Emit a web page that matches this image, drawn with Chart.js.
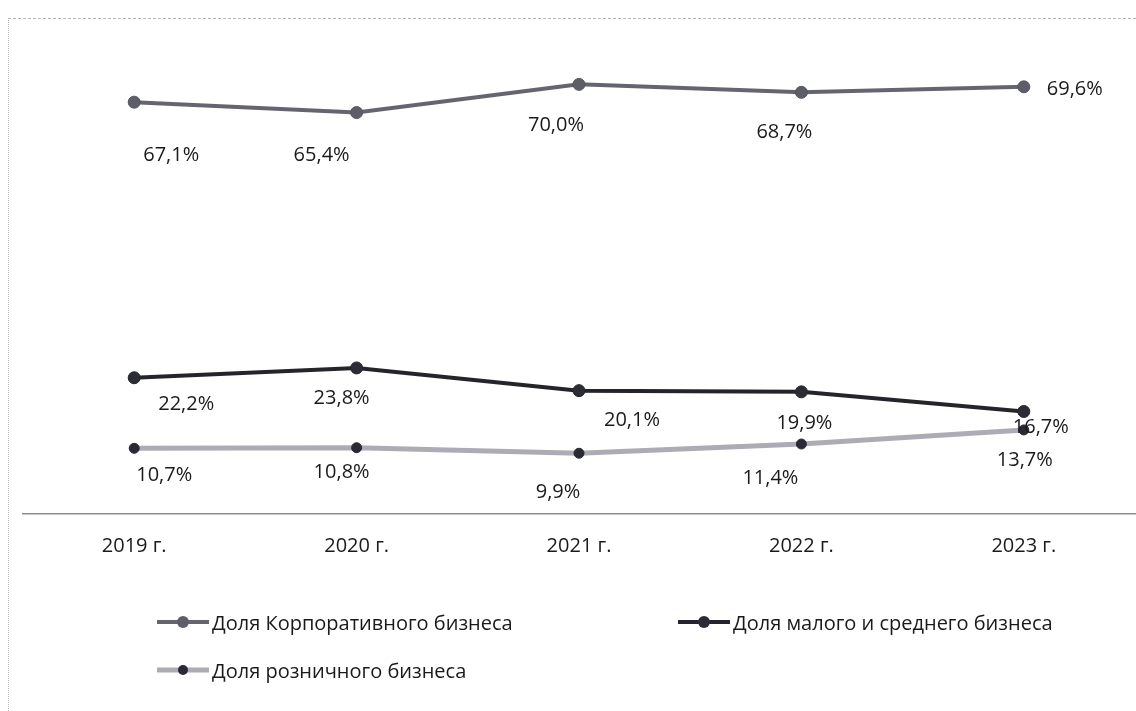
<!DOCTYPE html>
<html>
<head>
<meta charset="utf-8">
<script src="https://cdn.jsdelivr.net/npm/chart.js@4"></script>
<style>
  html, body { margin: 0; padding: 0; background: #fff; }
  #wrap { position: relative; width: 1136px; height: 711px; overflow: hidden; font-family: 'Open Sans', sans-serif; }
  #chart { position: absolute; left: 0; top: 0; }
  .frame-top { position: absolute; left: 8px; top: 18px; width: 1128px; border-top: 1px dashed #b4b4b4; }
  .frame-left { position: absolute; left: 8px; top: 18px; height: 693px; border-left: 1px dotted #b4b4b4; }
  .leg { position: absolute; display: flex; align-items: center; font-size: 20px; color: #1a1a1a; white-space: nowrap; }
  .sw { position: relative; width: 52px; height: 12px; margin-right: 3px; }
  .sw .ln { position: absolute; left: 0; right: 0; top: 50%; transform: translateY(-50%); }
  .sw .dot { position: absolute; left: 50%; top: 50%; transform: translate(-50%, -50%); border-radius: 50%; }
</style>
</head>
<body>
<div id="wrap">
  <div class="frame-top"></div>
  <div class="frame-left"></div>
  <canvas id="chart" width="1136" height="711"></canvas>
</div>
<script>
const years = ['2019 г.', '2020 г.', '2021 г.', '2022 г.', '2023 г.'];
const corporate = [67.1, 65.4, 70.0, 68.7, 69.6];
const smallMedium = [22.2, 23.8, 20.1, 19.9, 16.7];
const retail = [10.7, 10.8, 9.9, 11.4, 13.7];

// label offsets from each point, px (as placed in the original)
const corpLabelPos   = [[37, 53], [-35, 43], [-23, 41], [-17, 40], [51, 2]];
const smeLabelPos    = [[52, 27], [-15, 30], [53, 30], [3, 31], [17, 16]];
const retailLabelPos = [[30, 27], [-15, 25], [-21, 39], [-31, 34], [1, 30]];

const fontFamily = "'Open Sans', sans-serif";

const pointLabels = {
  id: 'pointLabels',
  afterDatasetsDraw(chart) {
    const ctx = chart.ctx;
    ctx.save();
    ctx.font = `20px ${fontFamily}`;
    ctx.fillStyle = '#1a1a1a';
    ctx.textAlign = 'center';
    ctx.textBaseline = 'middle';
    chart.data.datasets.forEach((ds, i) => {
      const meta = chart.getDatasetMeta(i);
      meta.data.forEach((pt, j) => {
        const off = ds.labelPos[j];
        const txt = ds.data[j].toFixed(1).replace('.', ',') + '%';
        ctx.fillText(txt, pt.x + off[0], pt.y + off[1]);
      });
    });
    ctx.restore();
  }
};

const datasets = [
  {
    label: 'Доля Корпоративного бизнеса',
    data: corporate,
    labelPos: corpLabelPos,
    borderColor: '#65656f',
    backgroundColor: '#5e5e69',
    pointBackgroundColor: '#5e5e69',
    pointBorderColor: '#55555f',
    borderWidth: 4,
    pointRadius: 6,
    pointBorderWidth: 1,
    tension: 0,
  },
  {
    label: 'Доля малого и среднего бизнеса',
    data: smallMedium,
    labelPos: smeLabelPos,
    borderColor: '#24242c',
    backgroundColor: '#2c2c36',
    pointBackgroundColor: '#2c2c36',
    pointBorderColor: '#24242c',
    borderWidth: 4,
    pointRadius: 6,
    pointBorderWidth: 1,
    tension: 0,
  },
  {
    label: 'Доля розничного бизнеса',
    data: retail,
    labelPos: retailLabelPos,
    borderColor: '#acacb4',
    backgroundColor: '#2a2a34',
    pointBackgroundColor: '#2a2a34',
    pointBorderColor: '#2a2a34',
    borderWidth: 5,
    pointRadius: 5,
    pointBorderWidth: 1,
    tension: 0,
  },
];

new Chart(document.getElementById('chart'), {
  type: 'line',
  data: { labels: years, datasets: datasets },
  options: {
    responsive: false,
    animation: false,
    layout: { autoPadding: false, padding: { left: 23, right: 1, top: 23, bottom: 141 } },
    plugins: {
      legend: { display: false },
      tooltip: { enabled: false },
    },
    scales: {
      x: {
        offset: true,
        grid: { display: false },
        border: { display: true, color: '#8e8e8e', width: 1.5 },
        ticks: { color: '#1a1a1a', padding: 12, font: { family: fontFamily, size: 20 } },
      },
      y: {
        display: false,
        min: 0,
        max: 80,
      },
    },
  },
  plugins: [pointLabels],
});

// legend laid out in two columns like the source
const legendSpots = [[157, 622], [678, 622], [157, 670]];
const wrap = document.getElementById('wrap');
datasets.forEach((ds, i) => {
  const item = document.createElement('div');
  item.className = 'leg';
  item.style.left = legendSpots[i][0] + 'px';
  item.style.top = (legendSpots[i][1] - 14) + 'px';
  item.style.height = '28px';
  const sw = document.createElement('div');
  sw.className = 'sw';
  const ln = document.createElement('div');
  ln.className = 'ln';
  ln.style.height = ds.borderWidth + 'px';
  ln.style.background = ds.borderColor;
  const dot = document.createElement('div');
  dot.className = 'dot';
  const d = ds.pointRadius * 2;
  dot.style.width = d + 'px';
  dot.style.height = d + 'px';
  dot.style.background = ds.pointBackgroundColor;
  sw.appendChild(ln);
  sw.appendChild(dot);
  const tx = document.createElement('span');
  tx.textContent = ds.label;
  item.appendChild(sw);
  item.appendChild(tx);
  wrap.appendChild(item);
});
</script>
</body>
</html>
